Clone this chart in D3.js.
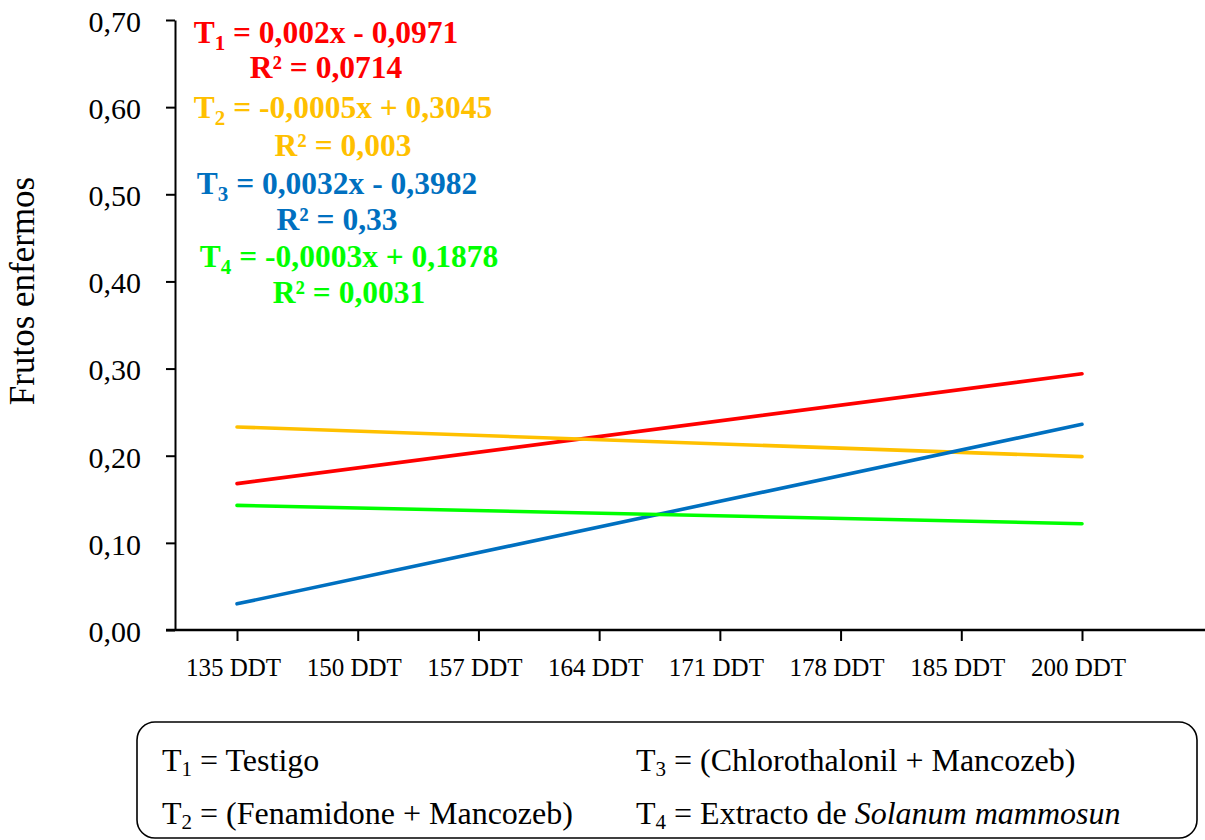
<!DOCTYPE html>
<html>
<head>
<meta charset="utf-8">
<script src="https://cdn.jsdelivr.net/npm/d3@7"></script>
<style>
  html, body { margin: 0; padding: 0; background: #ffffff; }
  svg text { font-family: "Liberation Serif", "Times New Roman", "DejaVu Serif", serif !important; }
</style>
</head>
<body>
<svg id="chart" width="1205" height="840"></svg>
<script>
// Sampling dates (days after transplant)
const categories = ["135 DDT", "150 DDT", "157 DDT", "164 DDT", "171 DDT", "178 DDT", "185 DDT", "200 DDT"];
// Trend lines run from the first to the last sampling date
const trendEnds = ["135 DDT", "200 DDT"];
const yTicks = [0, 0.10, 0.20, 0.30, 0.40, 0.50, 0.60, 0.70];

// Fitted proportion of diseased fruits at each end of the period
const t1Values = [0.168, 0.294];
const t2Values = [0.233, 0.199];
const t3Values = [0.030, 0.236];
const t4Values = [0.143, 0.122];

const seriesNames = ["1", "2", "3", "4"];
const seriesColors = ["#ff0000", "#ffc000", "#0070c0", "#00ff00"];
const equations = ["0,002x - 0,0971", "-0,0005x + 0,3045", "0,0032x - 0,3982", "-0,0003x + 0,1878"];
const r2Labels = ["0,0714", "0,003", "0,33", "0,0031"];

const legendRows = [
  [{ sub: "1", text: "Testigo" }, { sub: "3", text: "(Chlorothalonil + Mancozeb)" }],
  [{ sub: "2", text: "(Fenamidone + Mancozeb)" }, { sub: "4", text: "Extracto de ", italic: "Solanum mammosun" }]
];

const svg = d3.select("#chart");

const x = d3.scalePoint().domain(categories).range([237, 1082]);
const y = d3.scaleLinear().domain([0, 0.7]).range([630, 20]);

// Y axis
const yAxis = svg.append("g")
  .attr("transform", "translate(175,0)")
  .call(d3.axisLeft(y).tickValues(yTicks).tickSize(9).tickSizeOuter(0).tickPadding(25)
    .tickFormat(d => d.toFixed(2).replace(".", ",")));
yAxis.select(".domain").attr("stroke", "#000").attr("stroke-width", 2);
yAxis.selectAll(".tick line").attr("stroke", "#000").attr("stroke-width", 2);
yAxis.selectAll(".tick text")
  .attr("font-size", 30)
  .attr("fill", "#000")
  .attr("dy", "0.38em");

// X axis
const xAxis = svg.append("g")
  .attr("transform", "translate(0,630)")
  .call(d3.axisBottom(x).tickSize(11).tickSizeOuter(0).tickPadding(17));
xAxis.select(".domain").remove();
xAxis.append("line")
  .attr("x1", 166).attr("x2", 1205).attr("y1", 0).attr("y2", 0)
  .attr("stroke", "#000").attr("stroke-width", 2.4);
xAxis.selectAll(".tick line").attr("stroke", "#000").attr("stroke-width", 2);
xAxis.selectAll(".tick text")
  .attr("font-size", 25)
  .attr("fill", "#000")
  .attr("dx", -4);

// Y axis title
svg.append("text")
  .attr("transform", "translate(34,291) rotate(-90)")
  .attr("text-anchor", "middle")
  .attr("font-size", 35)
  .attr("fill", "#000")
  .text("Frutos enfermos");

// Trend lines
const allValues = [t1Values, t2Values, t3Values, t4Values];
const line = d3.line().x((d, i) => x(trendEnds[i])).y(d => y(d));
svg.selectAll("path.trend")
  .data(allValues)
  .join("path")
  .attr("class", "trend")
  .attr("d", d => line(d))
  .attr("fill", "none")
  .attr("stroke", (d, i) => seriesColors[i])
  .attr("stroke-width", 3.6)
  .attr("stroke-linecap", "round");

// Regression equations
const eqCenters = [326, 343, 337, 349];
const eqBaselines = [43, 118, 194, 267];
const r2Baselines = [78, 156, 230, 303];
seriesNames.forEach((n, i) => {
  const t = svg.append("text")
    .attr("x", eqCenters[i]).attr("y", eqBaselines[i])
    .attr("text-anchor", "middle")
    .attr("font-weight", "bold")
    .attr("font-size", 31.5)
    .attr("fill", seriesColors[i]);
  t.append("tspan").text("T");
  t.append("tspan").attr("font-size", 21).attr("dy", 7).text(n);
  t.append("tspan").attr("dy", -7).text(" = " + equations[i]);

  svg.append("text")
    .attr("x", eqCenters[i]).attr("y", r2Baselines[i])
    .attr("text-anchor", "middle")
    .attr("font-weight", "bold")
    .attr("font-size", 31.5)
    .attr("fill", seriesColors[i])
    .text("R\u00b2 = " + r2Labels[i]);
});

// Treatment key
svg.append("rect")
  .attr("x", 137).attr("y", 722).attr("width", 1060).attr("height", 116)
  .attr("rx", 18).attr("ry", 18)
  .attr("fill", "none").attr("stroke", "#000").attr("stroke-width", 1.6);

const colX = [162, 636];
const rowY = [771, 824];
legendRows.forEach((row, r) => {
  row.forEach((item, c) => {
    const t = svg.append("text")
      .attr("x", colX[c]).attr("y", rowY[r])
      .attr("font-size", 32)
      .attr("fill", "#000");
    t.append("tspan").text("T");
    t.append("tspan").attr("font-size", 21).attr("dy", 5).text(item.sub);
    t.append("tspan").attr("dy", -5).text(" = " + item.text);
    if (item.italic) t.append("tspan").attr("font-style", "italic").text(item.italic);
  });
});
</script>
</body>
</html>
